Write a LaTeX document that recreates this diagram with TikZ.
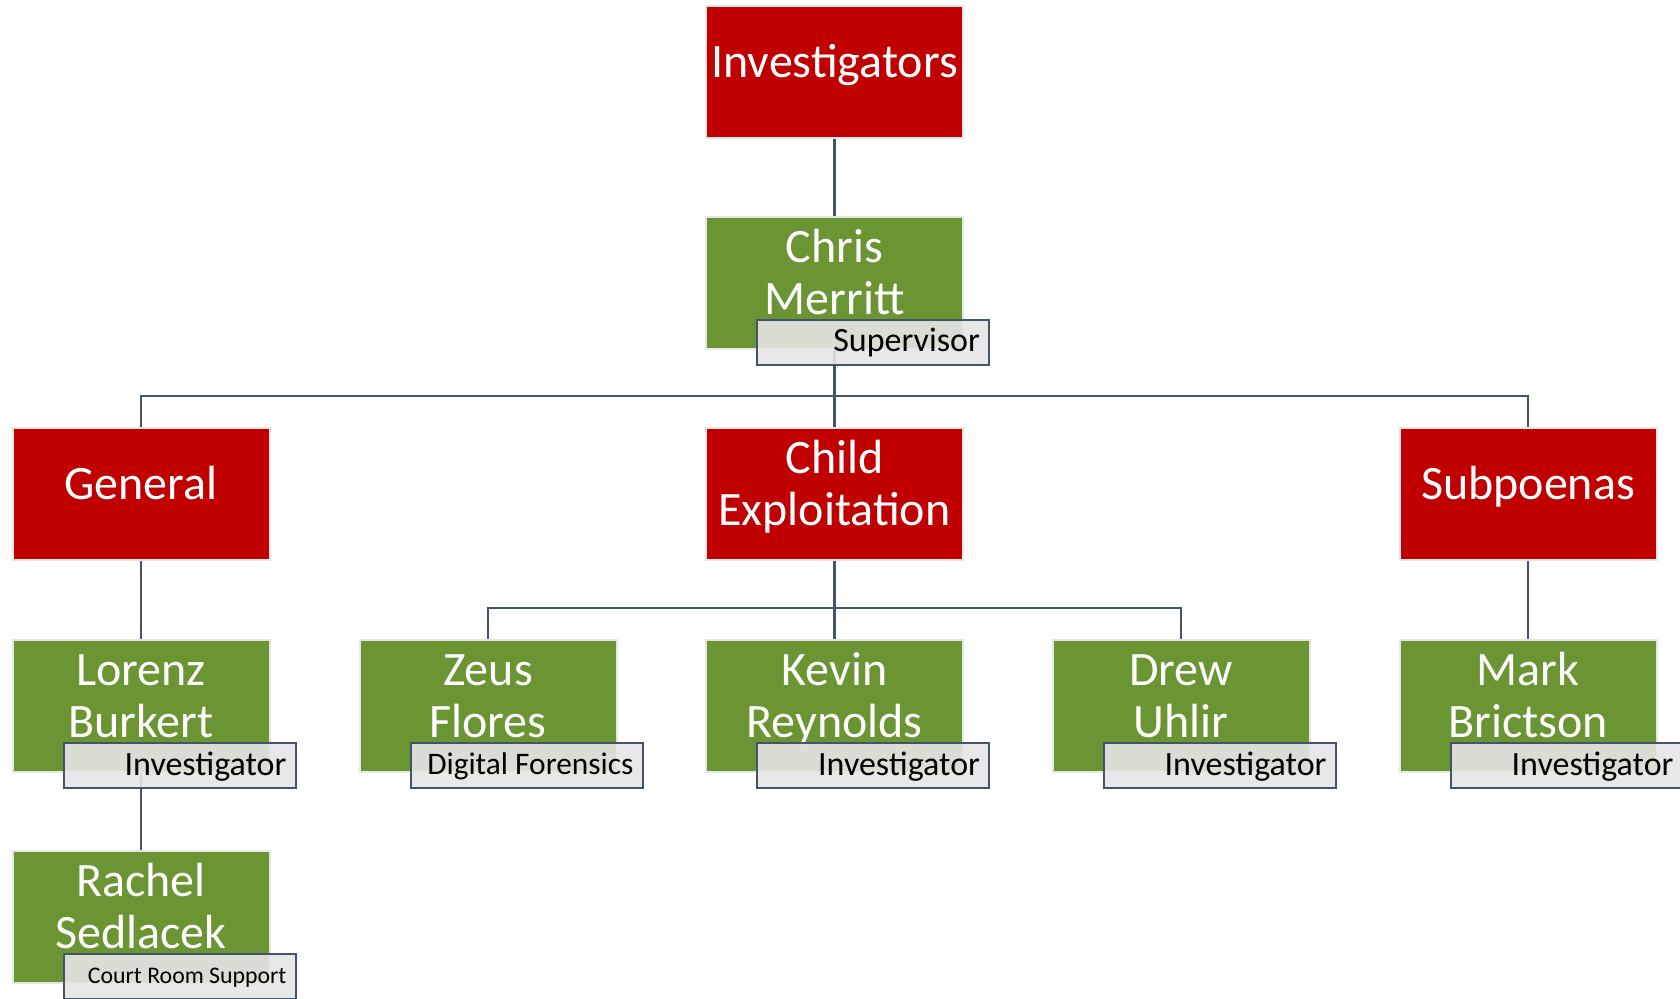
\documentclass[tikz,border=0pt]{standalone}
\usepackage{fontspec}
\setmainfont{Carlito}
\usetikzlibrary{calc}
\definecolor{deptred}{HTML}{C00000}
\definecolor{staffgreen}{HTML}{6B9433}
\definecolor{boxedge}{HTML}{E6E6E6}
\definecolor{slate}{HTML}{44546A}
\definecolor{tagfill}{HTML}{E7E6E6}
% two centred lines of equal strut height
\newcommand\pairline[2]{\strut#1\\\strut#2}
\begin{document}
\begin{tikzpicture}[x=0.5pt,y=-0.5pt,
  boxunit/.style={rectangle, draw=boxedge, line width=1pt, minimum width=128.5pt,
               minimum height=66pt, inner sep=0pt},
  dept/.style={boxunit, fill=deptred},
  staff/.style={boxunit, fill=staffgreen},
  boxtext/.style={text=white, font=\fontsize{24}{26}\selectfont, align=center, inner sep=0pt},
  roletag/.style={rectangle, draw=slate, line width=1.2pt, fill=tagfill, fill opacity=0.9,
              minimum width=116pt, minimum height=22.5pt, inner sep=0pt, anchor=north west},
  roletext/.style={font=\fontsize{17}{20}\selectfont, anchor=base east, inner sep=0pt},
  conn/.style={draw=slate, line width=1.1pt},
]
\useasboundingbox (0,0) rectangle (1680,999);
\clip (0,0) rectangle (1680,999);

% boxes
\node[dept]  (inv) at (834.5,72)  {};
\node[staff] (cm)  at (834.5,283) {};
\node[dept]  (gen) at (141,494)   {};
\node[dept]  (ce)  at (834.5,494) {};
\node[dept]  (sub) at (1528,494)  {};
\node[staff] (lb)  at (141,706)   {};
\node[staff] (zf)  at (488,706)   {};
\node[staff] (kr)  at (834.5,706) {};
\node[staff] (du)  at (1181,706)  {};
\node[staff] (mb)  at (1528,706)  {};
\node[staff] (rs)  at (141,917)   {};

% connectors
\draw[conn] (inv.south) -- (cm.north);
\draw[conn] (cm.south) -- ++(0,46) coordinate (bus1) -| (gen.north);
\draw[conn] (bus1) -| (sub.north);
\draw[conn] (cm.south) -- (ce.north);
\draw[conn] (gen.south) -- (lb.north);
\draw[conn] (sub.south) -- (mb.north);
\draw[conn] (ce.south) -- ++(0,47) coordinate (bus2) -| (zf.north);
\draw[conn] (bus2) -| (du.north);
\draw[conn] (ce.south) -- (kr.north);
\draw[conn] (lb.south) -- (rs.north);

% box texts
\node[boxtext] (inv-t) at ($(inv.center)+(0,-5)$) {\strut Investigators};
\node[boxtext] (cm-t)  at ($(cm.center)+(0,-5)$)  {\pairline{Chris}{Merritt}};
\node[boxtext] (gen-t) at ($(gen.center)+(0,-5)$) {\strut General};
\node[boxtext] (ce-t)  at ($(ce.center)+(0,-5)$)  {\pairline{Child}{Exploitation}};
\node[boxtext] (sub-t) at ($(sub.center)+(0,-5)$) {\strut Subpoenas};
\node[boxtext] (lb-t)  at ($(lb.center)+(0,-5)$)  {\pairline{Lorenz}{Burkert}};
\node[boxtext] (zf-t)  at ($(zf.center)+(0,-5)$)  {\pairline{Zeus}{Flores}};
\node[boxtext] (kr-t)  at ($(kr.center)+(0,-5)$)  {\pairline{Kevin}{Reynolds}};
\node[boxtext] (du-t)  at ($(du.center)+(0,-5)$)  {\pairline{Drew}{Uhlir}};
\node[boxtext] (mb-t)  at ($(mb.center)+(0,-5)$)  {\pairline{Mark}{Brictson}};
\node[boxtext] (rs-t)  at ($(rs.center)+(0,-5)$)  {\pairline{Rachel}{Sedlacek}};

% role tags
\node[roletag] (cm-tag) at ($(cm.north west)+(51,103)$) {};
\node[roletext] (cm-role) at ($(cm-tag.north east)+(-10,33)$) {Supervisor};
\node[roletag] (lb-tag) at ($(lb.north west)+(51,103)$) {};
\node[roletext] (lb-role) at ($(lb-tag.north east)+(-10,33)$) {Investigator};
\node[roletag] (zf-tag) at ($(zf.north west)+(51,103)$) {};
\node[roletext, font=\fontsize{15.7}{19}\selectfont] (zf-role) at ($(zf-tag.north east)+(-10,32)$) {Digital Forensics};
\node[roletag] (kr-tag) at ($(kr.north west)+(51,103)$) {};
\node[roletext] (kr-role) at ($(kr-tag.north east)+(-10,33)$) {Investigator};
\node[roletag] (du-tag) at ($(du.north west)+(51,103)$) {};
\node[roletext] (du-role) at ($(du-tag.north east)+(-10,33)$) {Investigator};
\node[roletag] (mb-tag) at ($(mb.north west)+(51,103)$) {};
\node[roletext] (mb-role) at ($(mb-tag.north east)+(-10,33)$) {Investigator};
\node[roletag] (rs-tag) at ($(rs.north west)+(51,103)$) {};
\node[roletext, font=\fontsize{11.9}{14}\selectfont] (rs-role) at ($(rs-tag.north east)+(-10,30)$) {Court Room Support};
\end{tikzpicture}
\end{document}
